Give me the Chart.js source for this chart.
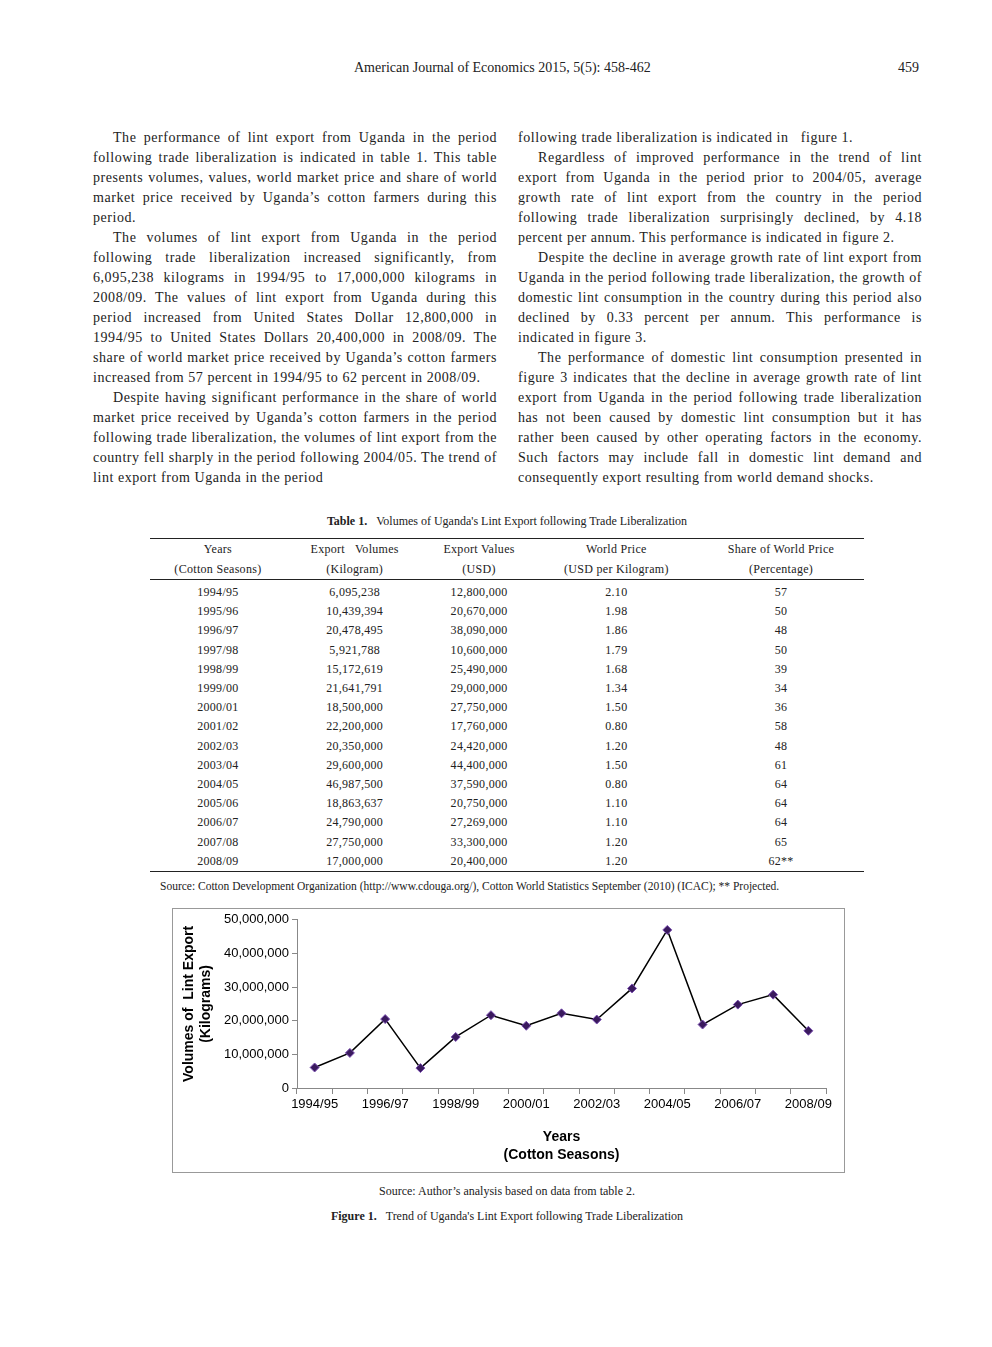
<!DOCTYPE html>
<html>
<head>
<meta charset="utf-8">
<script src="https://cdn.jsdelivr.net/npm/chart.js@4"></script>
<style>
body { margin:0; width:992px; height:1347px; background:#fff; font-family:"Liberation Serif","DejaVu Serif",serif; color:#222; position:relative; }
.abs { position:absolute; }
.col { position:absolute; width:404px; font-size:14px; line-height:20px; text-align:justify; letter-spacing:0.55px; }
.col p { margin:0; text-indent:20px; }
table { border-collapse:collapse; font-size:12px; width:714px; letter-spacing:0.3px; }
th { font-weight:normal; line-height:20px; padding:0; border-top:1px solid #222; border-bottom:1px solid #222; }
td { text-align:center; line-height:19.2px; padding:0; }
tbody tr:first-child td { padding-top:3px; }
tbody tr:last-child td { border-bottom:1px solid #222; }
</style>
</head>
<body>
<div class="abs" style="left:354px;top:60px;font-size:14px">American Journal of Economics 2015, 5(5): 458-462</div>
<div class="abs" style="left:898px;top:60px;font-size:14px">459</div>

<div class="col" style="left:93px;top:128px">
<p>The performance of lint export from Uganda in the period following trade liberalization is indicated in table 1. This table presents volumes, values, world market price and share of world market price received by Uganda’s cotton farmers during this period.</p>
<p>The volumes of lint export from Uganda in the period following trade liberalization increased significantly, from 6,095,238 kilograms in 1994/95 to 17,000,000 kilograms in 2008/09. The values of lint export from Uganda during this period increased from United States Dollar 12,800,000 in 1994/95 to United States Dollars 20,400,000 in 2008/09. The share of world market price received by Uganda’s cotton farmers increased from 57 percent in 1994/95 to 62 percent in 2008/09.</p>
<p>Despite having significant performance in the share of world market price received by Uganda’s cotton farmers in the period following trade liberalization, the volumes of lint export from the country fell sharply in the period following 2004/05. The trend of lint export from Uganda in the period</p>
</div>
<div class="col" style="left:518px;top:128px">
<p style="text-indent:0">following trade liberalization is indicated in &nbsp;&nbsp;figure 1.</p>
<p>Regardless of improved performance in the trend of lint export from Uganda in the period prior to 2004/05, average growth rate of lint export from the country in the period following trade liberalization surprisingly declined, by 4.18 percent per annum. This performance is indicated in figure 2.</p>
<p>Despite the decline in average growth rate of lint export from Uganda in the period following trade liberalization, the growth of domestic lint consumption in the country during this period also declined by 0.33 percent per annum. This performance is indicated in figure 3.</p>
<p>The performance of domestic lint consumption presented in figure 3 indicates that the decline in average growth rate of lint export from Uganda in the period following trade liberalization has not been caused by domestic lint consumption but it has rather been caused by other operating factors in the economy. Such factors may include fall in domestic lint demand and consequently export resulting from world demand shocks.</p>
</div>

<div class="abs" style="left:150px;top:514px;width:714px;text-align:center;font-size:12px"><b>Table 1.</b>&nbsp;&nbsp;&nbsp;Volumes of Uganda's Lint Export following Trade Liberalization</div>
<table class="abs" style="left:150px;top:538px" id="tbl">
<thead><tr>
<th>Years<br>(Cotton Seasons)</th><th>Export&nbsp;&nbsp;&nbsp;Volumes<br>(Kilogram)</th><th>Export Values<br>(USD)</th><th>World Price<br>(USD per Kilogram)</th><th>Share of World Price<br>(Percentage)</th>
</tr></thead>
<tbody></tbody>
</table>
<div class="abs" style="left:160px;top:880px;font-size:11.5px">Source: Cotton Development Organization (http://www.cdouga.org/), Cotton World Statistics September (2010) (ICAC); ** Projected.</div>

<div class="abs" style="left:172px;top:908px;width:671px;height:263px;border:1px solid #999">
<canvas id="lintChart"></canvas>
</div>

<div class="abs" style="left:0;top:1184px;width:1014px;text-align:center;font-size:12px">Source: Author’s analysis based on data from table 2.</div>
<div class="abs" style="left:0;top:1209px;width:1014px;text-align:center;font-size:12px"><b>Figure 1.</b>&nbsp;&nbsp;&nbsp;Trend of Uganda's Lint Export following Trade Liberalization</div>

<script>
const seasons = ['1994/95','1995/96','1996/97','1997/98','1998/99','1999/00','2000/01','2001/02','2002/03','2003/04','2004/05','2005/06','2006/07','2007/08','2008/09'];
const exportVolumes = [6095238,10439394,20478495,5921788,15172619,21641791,18500000,22200000,20350000,29600000,46987500,18863637,24790000,27750000,17000000];
const exportValues = [12800000,20670000,38090000,10600000,25490000,29000000,27750000,17760000,24420000,44400000,37590000,20750000,27269000,33300000,20400000];
const worldPrice = ['2.10','1.98','1.86','1.79','1.68','1.34','1.50','0.80','1.20','1.50','0.80','1.10','1.10','1.20','1.20'];
const worldShare = ['57','50','48','50','39','34','36','58','48','61','64','64','64','65','62**'];

document.addEventListener('DOMContentLoaded', function() {
    // table rows
    const tbody = document.querySelector('#tbl tbody');
    seasons.forEach(function(s, i) {
        const tr = document.createElement('tr');
        [s, exportVolumes[i].toLocaleString('en-US'), exportValues[i].toLocaleString('en-US'), worldPrice[i], worldShare[i]].forEach(function(v) {
            const td = document.createElement('td');
            td.textContent = v;
            tr.appendChild(td);
        });
        tbody.appendChild(tr);
    });

    // chart
    const ctx = document.getElementById('lintChart').getContext('2d');
    const fam = '"Liberation Sans",Arial,sans-serif';
    new Chart(ctx, {
        type: 'line',
        data: {
            labels: seasons,
            datasets: [{
                data: exportVolumes,
                borderColor: '#000',
                borderWidth: 1.5,
                tension: 0,
                pointStyle: 'rectRot',
                pointRadius: 4.5,
                pointBackgroundColor: '#3a1a5e',
                pointBorderColor: '#7a4fb0',
                pointBorderWidth: 1
            }]
        },
        options: {
            responsive: true,
            maintainAspectRatio: false,
            animation: false,
            layout: { padding: { left: 8, right: 18, top: 10, bottom: 4 } },
            plugins: { legend: { display: false }, tooltip: { enabled: false } },
            scales: {
                x: {
                    offset: true,
                    grid: { drawOnChartArea: false, drawTicks: true, offset: true, tickLength: 6, color: '#888' },
                    border: { color: '#888' },
                    ticks: {
                        autoSkip: false, maxRotation: 0, color: '#000', font: { family: fam, size: 13 },
                        callback: function(v, i) { return i % 2 === 0 ? seasons[i] : ''; }
                    },
                    title: { display: true, text: ['Years', '(Cotton Seasons)'], color: '#000', padding: { top: 4 },
                        font: { family: fam, size: 14, weight: 'bold', lineHeight: 1.3 } },
                    afterFit: function(s) { s.height = 80; }
                },
                y: {
                    min: 0, max: 50000000,
                    grid: { drawOnChartArea: false, tickLength: 5, color: '#888' },
                    border: { color: '#888' },
                    ticks: { stepSize: 10000000, color: '#000', font: { family: fam, size: 13 },
                        callback: function(v) { return v.toLocaleString('en-US'); } },
                    title: { display: true, text: ['Volumes of  Lint Export', '(Kilograms)'], color: '#000', padding: 0,
                        font: { family: fam, size: 14, weight: 'bold', lineHeight: 1.2 } },
                    afterFit: function(s) { s.width = 116; }
                }
            }
        }
    });
});
</script>
</body>
</html>
